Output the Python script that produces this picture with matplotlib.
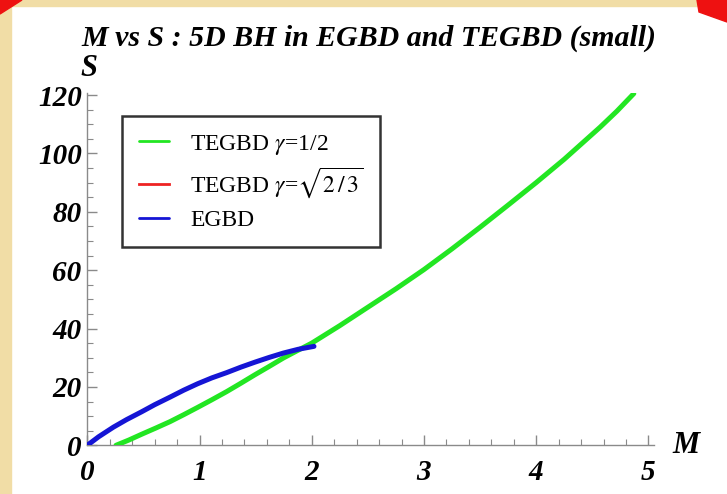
import matplotlib
matplotlib.use("Agg")
import matplotlib.pyplot as plt
import numpy as np
from matplotlib.patches import Rectangle, Polygon
from matplotlib.ticker import MultipleLocator

# Data
green_M = [0.256, 0.37, 0.485, 0.61, 0.737, 0.86, 0.984, 1.11, 1.242, 1.37, 1.495, 1.62, 1.747, 1.87,
           2.0, 2.25, 2.5, 2.75, 3.0, 3.25, 3.5, 3.75, 4.0, 4.25, 4.57, 4.72, 4.87]
green_S = [0.0, 1.8, 3.8, 5.9, 8.1, 10.5, 13.0, 15.6, 18.4, 21.3, 24.2, 27.0, 29.9, 32.4,
           35.0, 41.0, 47.3, 53.6, 60.2, 67.3, 74.7, 82.3, 90.0, 98.0, 109.0, 114.5, 120.5]
red_M = []
red_S = []
blue_M = [0.0, 0.1, 0.232, 0.35, 0.485, 0.6, 0.737, 0.86, 0.984, 1.11, 1.242, 1.37, 1.495, 1.62,
          1.747, 1.88, 2.02]
blue_S = [0.0, 2.9, 6.2, 8.8, 11.5, 13.9, 16.5, 18.9, 21.1, 23.1, 24.9, 26.8, 28.5, 30.1,
          31.6, 32.9, 33.9]

labels = [r"TEGBD $\gamma$=1/2", r"TEGBD $\gamma$=$\sqrt{2\,/\,3}$", "EGBD"]
x_ticks = [0, 1, 2, 3, 4, 5]
y_ticks = [0, 20, 40, 60, 80, 100, 120]
title = "M vs S : 5D BH in EGBD and TEGBD (small)"

plt.rcParams["font.family"] = ["Liberation Serif", "DejaVu Serif"]
plt.rcParams["mathtext.fontset"] = "stix"

W, H = 727, 494
fig = plt.figure(figsize=(W / 100, H / 100), dpi=100)
fig.patch.set_facecolor("white")

# slide decoration: tan strips and red corner marks
tan = "#F1DDA6"
fig.add_artist(Rectangle((0, 0), 11 / W, 1, transform=fig.transFigure, color=tan, zorder=0))
fig.add_artist(Rectangle((0, 1 - 6 / H), 1, 6 / H, transform=fig.transFigure, color=tan, zorder=0))
fig.add_artist(Polygon([(0, 1), (22 / W, 1), (0, 1 - 14 / H)], closed=True,
                       transform=fig.transFigure, color="#EE1111", zorder=1))
fig.add_artist(Polygon([(1 - 30 / W, 1), (1, 1), (1, 1 - 22 / H), (1 - 28 / W, 1 - 12 / H)], closed=True,
                       transform=fig.transFigure, color="#EE1111", zorder=1))

ax = fig.add_axes([87.3 / W, (H - 445.3) / H, (654 - 87.3) / W, (445.3 - 93) / H])
ax.set_facecolor("white")

ax.plot(green_M, green_S, color="#22E622", lw=3.6, solid_capstyle="round", solid_joinstyle="round",
        label=labels[0], zorder=3)
ax.plot(red_M, red_S, color="#EE2222", lw=3.6, label=labels[1], zorder=3)
ax.plot(blue_M, blue_S, color="#1515D5", lw=3.6, solid_capstyle="round", solid_joinstyle="round",
        label=labels[2], zorder=4)

ax.set_xlim(0, 5.05)
ax.set_ylim(0, 120.7)
for s in ["top", "right"]:
    ax.spines[s].set_visible(False)
for s in ["left", "bottom"]:
    ax.spines[s].set_color("#8a8a8a")
    ax.spines[s].set_linewidth(1.0)

ax.set_xticks(x_ticks)
ax.set_yticks(y_ticks)
ax.xaxis.set_minor_locator(MultipleLocator(0.2))
ax.yaxis.set_minor_locator(MultipleLocator(5))
ax.tick_params(which="major", direction="in", length=7, width=1, color="#8a8a8a")
ax.tick_params(which="minor", direction="in", length=4, width=0.8, color="#8a8a8a")
ax.tick_params(axis="x", pad=10)
ax.tick_params(axis="y", pad=4)
for lab in ax.get_xticklabels() + ax.get_yticklabels():
    lab.set_fontsize(21)
    lab.set_fontweight("bold")
    lab.set_fontstyle("italic")

fig.text(369 / W, 1 - 38 / H, title, ha="center", va="center", fontsize=21.5,
         fontweight="bold", fontstyle="italic")
fig.text(89 / W, 1 - 68 / H, "S", ha="center", va="center", fontsize=22,
         fontweight="bold", fontstyle="italic")
fig.text(686 / W, 1 - 445 / H, "M", ha="center", va="center", fontsize=22,
         fontweight="bold", fontstyle="italic")

leg = ax.legend(loc="upper left", bbox_to_anchor=((122 - 87.3) / (654 - 87.3), (445.3 - 116) / (445.3 - 93)),
                fontsize=17, frameon=True, fancybox=False, handlelength=1.3, handletextpad=0.9,
                borderpad=0.7, labelspacing=0.38, borderaxespad=0)
leg.get_frame().set_edgecolor("black")
leg.get_frame().set_linewidth(1.8)
for h in leg.get_lines():
    h.set_linewidth(2)

fig.savefig("out.png", dpi=100, facecolor=fig.get_facecolor())
